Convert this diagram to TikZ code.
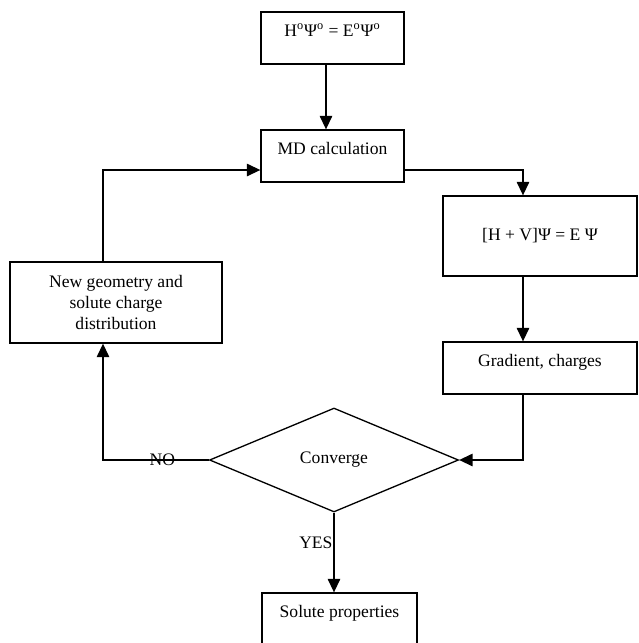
\documentclass[tikz,border=0pt]{standalone}
\usepackage{fontspec}
\setmainfont{Liberation Serif}
\usetikzlibrary{shapes.geometric,arrows.meta}

\begin{document}
\begin{tikzpicture}[line width=0.75pt,>={Triangle[length=0.27cm,width=0.25cm]}]
\tikzset{
  topbox/.style={draw, text height=0.48cm, text depth=0.56cm, inner ysep=0pt},
  midbox/.style={draw, align=center},
  decide/.style={draw, diamond, aspect=2.4, inner sep=0pt}
}
\useasboundingbox (0,0) rectangle (12.78,-12.86);

\node[topbox,minimum width=2.86cm] (hzero) at (6.65,-0.76) {H\textsuperscript{o}Ψ\textsuperscript{o} = E\textsuperscript{o}Ψ\textsuperscript{o}};
\node[topbox,minimum width=2.86cm] (md) at (6.65,-3.12) {MD calculation};
\node[midbox,minimum width=3.88cm,minimum height=1.6cm] (hv) at (10.8,-4.72) {[H + V]Ψ = E Ψ};
\node[topbox,minimum width=3.88cm] (grad) at (10.8,-7.36) {Gradient, charges};
\node[midbox,minimum width=4.24cm,minimum height=1.62cm] (newgeo) at (2.32,-6.05) {New geometry and\\solute charge\\distribution};
\node[decide,minimum width=4.98cm,minimum height=2.08cm] (conv) at (6.68,-9.2) {Converge};
\node[topbox,minimum width=3.1cm] (solute) at (6.79,-12.38) {Solute properties};

\path[draw,->] ([xshift=-0.13cm]hzero.south) -- ([xshift=-0.13cm]md.north);
\path[draw,->] ([yshift=-0.28cm]md.east) -| ([xshift=-0.34cm]hv.north);
\path[draw,->] ([xshift=-0.34cm]hv.south) -- ([xshift=-0.34cm]grad.north);
\path[draw,->] ([xshift=-0.34cm]grad.south) |- (conv.east);
\path[draw,->] (conv.west) -| node[pos=0.22,inner sep=0pt] {NO} ([xshift=-0.26cm]newgeo.south);
\path[draw,->] ([xshift=-0.26cm]newgeo.north) |- ([yshift=-0.28cm]md.west);
\path[draw,->] (conv.south) -- node[pos=0.38,anchor=east,inner sep=0.5pt] {YES} (conv.south |- solute.north);
\end{tikzpicture}
\end{document}
